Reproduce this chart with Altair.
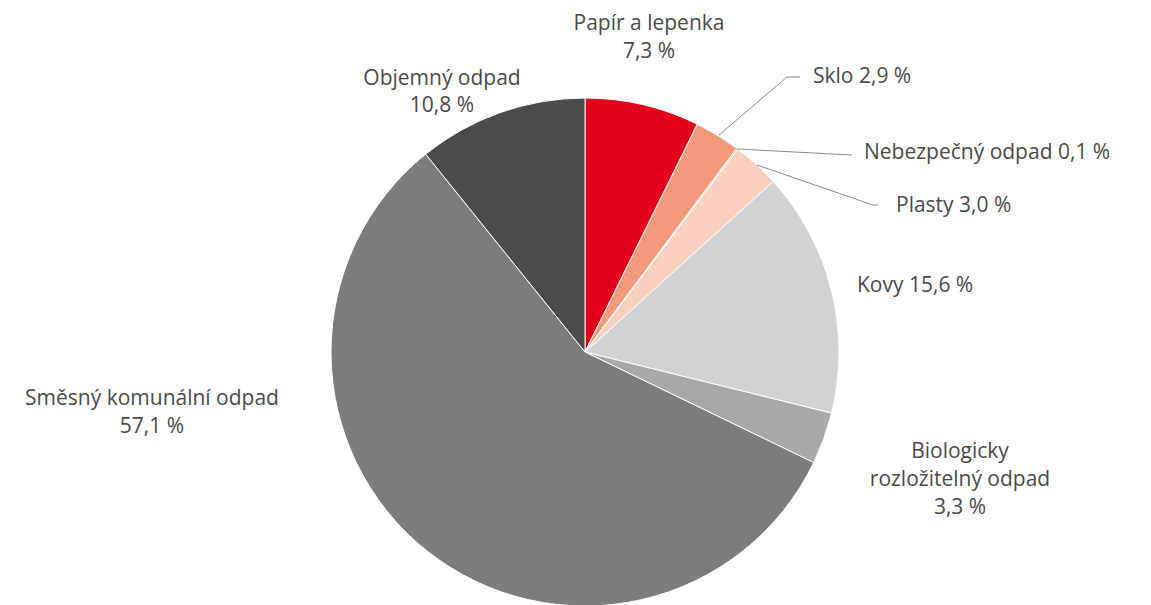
import altair as alt
import pandas as pd

# Data
categories = ["Papír a lepenka", "Sklo", "Nebezpečný odpad", "Plasty", "Kovy",
              "Biologicky rozložitelný odpad", "Směsný komunální odpad", "Objemný odpad"]
values = [7.3, 2.9, 0.1, 3.0, 15.6, 3.3, 57.1, 10.8]
colors = ["#E2001A", "#F39A7B", "#F7B8A0", "#F9CFBE", "#D1D2D4", "#A7A8AA", "#7B7C7E", "#4B4B4D"]

# Label texts (one row per line) and layout
label_lines = ["Papír a lepenka", "7,3 %", "Objemný odpad", "10,8 %", "Sklo 2,9 %",
               "Nebezpečný odpad 0,1 %", "Plasty 3,0 %", "Kovy 15,6 %",
               "Biologicky", "rozložitelný odpad", "3,3 %",
               "Směsný komunální odpad", "57,1 %"]
label_x = [641, 641, 434, 434, 805, 856, 888, 849, 952, 952, 952, 144, 144]
label_y = [16, 44, 71, 98, 69, 145, 198, 278, 444, 472, 500, 391, 419]
label_align = ["center", "center", "center", "center", "left", "left", "left", "left",
               "center", "center", "center", "center", "center"]

# Leader lines (polyline segments)
leader_x = [711, 779, 729, 844, 749, 865]
leader_y = [127, 69, 141, 147, 157, 197]
leader_x2 = [779, 792, 844, 844, 865, 870]
leader_y2 = [69, 69, 147, 147, 197, 197]

CX, CY, R = 577, 344, 254

pie_df = pd.DataFrame({"cat": categories, "val": values, "idx": list(range(len(values)))})
lab_df = pd.DataFrame({"t": label_lines, "x": label_x, "y": label_y, "a": label_align})
lead_df = pd.DataFrame({"x": leader_x, "y": leader_y, "x2": leader_x2, "y2": leader_y2})

pie = alt.Chart(pie_df).mark_arc(radius=R, stroke="white", strokeWidth=1).encode(
    theta=alt.Theta("val:Q", stack=True),
    order=alt.Order("idx:Q"),
    color=alt.Color("cat:N", scale=alt.Scale(domain=categories, range=colors), legend=None),
    x=alt.value(CX),
    y=alt.value(CY),
)

leaders = alt.Chart(lead_df).mark_rule(color="#8a8a8a", strokeWidth=1).encode(
    x=alt.X("x:Q", scale=None, axis=None),
    y=alt.Y("y:Q", scale=None, axis=None),
    x2="x2:Q",
    y2="y2:Q",
)

def text_layer(align):
    return alt.Chart(lab_df[lab_df.a == align]).mark_text(
        align=align, baseline="middle", font="Open Sans", fontSize=21,
        color="#4a4a4a"
    ).encode(
        x=alt.X("x:Q", scale=None, axis=None),
        y=alt.Y("y:Q", scale=None, axis=None),
        text="t:N",
    )

chart = alt.layer(pie, leaders, text_layer("center"), text_layer("left")).properties(
    width=1135, height=640, autosize=alt.AutoSizeParams(type="none"), padding=0
).configure_view(stroke=None)

chart.save("out.html", embed_options={"renderer": "svg", "actions": False})
